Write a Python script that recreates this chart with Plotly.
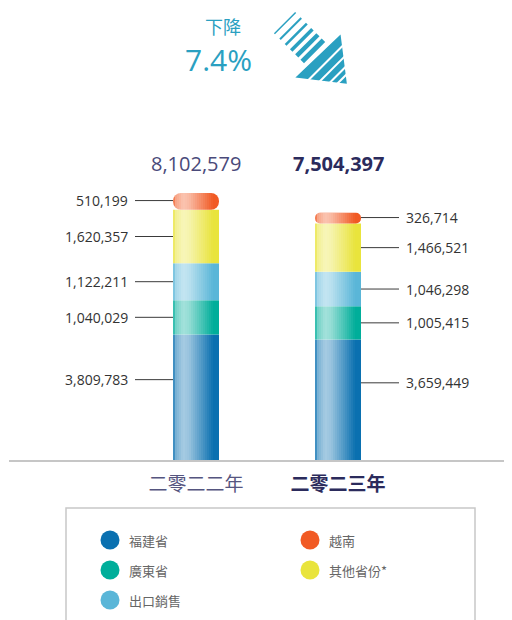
import numpy as np
import plotly.graph_objects as go

# ---------------- data ----------------
years = ["二零二二年", "二零二三年"]
segments = ["福建省", "廣東省", "出口銷售", "其他省份*", "越南"]   # bottom -> top
fujian = [3809783, 3659449]
guangdong = [1040029, 1005415]
export_sales = [1122211, 1046298]
other_prov = [1620357, 1466521]
vietnam = [510199, 326714]
seg_colors = ["#0a70b0", "#00ae9a", "#5ab6d8", "#e9e43c", "#f15a24"]

series = [fujian, guangdong, export_sales, other_prov, vietnam]
totals = [sum(v) for v in zip(*series)]
change = (totals[0] - totals[1]) / totals[0] * 100

# the page body has an 8px margin, so the figure is 8px smaller on each side
OFF = 8
W, H = 512 - OFF, 620 - OFF
TEAL = "#2aa0c1"
NAVY = "#2b2b5c"
CJK = "Noto Sans CJK TC"
NUM = "Open Sans, Noto Sans CJK TC"

# window pixel -> paper helpers
def px(x):
    return (x - OFF) / W

def py(y):
    return 1 - (y - OFF) / H

# plot scales
X_UNIT = 142.0                      # px between the two bars
BAR_W = 46 / X_UNIT
BASE_Y = 460                        # baseline in window px
Y_PER_PX = totals[0] / 267          # first bar is 267px tall
Y_MAX = (BASE_Y - OFF) * Y_PER_PX

fig = go.Figure()

# ---------------- stacked bars ----------------
base = np.zeros(2)
for k, (name, vals, col) in enumerate(zip(segments, series, seg_colors)):
    top = k == len(series) - 1
    fig.add_trace(go.Bar(
        x=[0, 1], y=vals, base=base.copy(), width=BAR_W, name=name,
        marker=dict(color=col, line=dict(width=0), cornerradius=8 if top else 0),
        hoverinfo="skip", showlegend=False,
    ))
    base += np.array(vals)

# glossy highlight: thin white strips with varying alpha
N = 23
for i in range(N):
    u = (i + 0.5) / N
    a = float(np.interp(u, [0, 0.06, 0.22, 0.35, 0.88, 1], [0.1, 0.45, 0.64, 0.58, 0.0, 0.0]))
    fig.add_trace(go.Bar(
        x=[0, 1], y=totals, base=[0, 0], width=BAR_W / N,
        offset=-BAR_W / 2 + i * BAR_W / N,
        marker=dict(color=f"rgba(255,255,255,{a:.3f})", line=dict(width=0)),
        hoverinfo="skip", showlegend=False,
    ))

# ---------------- value labels with leader lines ----------------
shapes = []
annotations = []
LINE_LEN = 38 / X_UNIT
GAP = 5 / X_UNIT
fracs = [0.64, 0.5, 0.5, 0.5, 0.55]
for b in range(2):
    cum = 0
    side = -1 if b == 0 else 1
    edge = b + side * BAR_W / 2
    for k, vals in enumerate(series):
        ylab = cum + vals[b] * fracs[k]
        cum += vals[b]
        shapes.append(dict(type="line", xref="x", yref="y",
                           x0=edge, x1=edge + side * LINE_LEN, y0=ylab, y1=ylab,
                           line=dict(color="#3a3a3a", width=1)))
        annotations.append(dict(
            xref="x", yref="y", x=edge + side * (LINE_LEN + GAP), y=ylab,
            text=f"{vals[b]:,}", showarrow=False,
            xanchor="right" if b == 0 else "left", yanchor="middle",
            font=dict(family=NUM, size=14, color="#333333")))

# totals above bars
annotations.append(dict(xref="x", yref="paper", x=0, y=py(163), text=f"{totals[0]:,}",
                        showarrow=False, xanchor="center", yanchor="middle",
                        font=dict(family=NUM, size=20, color="#4a4a7a")))
annotations.append(dict(xref="x", yref="paper", x=1, y=py(163), text=f"<b>{totals[1]:,}</b>",
                        showarrow=False, xanchor="center", yanchor="middle",
                        font=dict(family=NUM, size=20, color=NAVY)))

# headline
annotations.append(dict(xref="paper", yref="paper", x=px(223), y=py(25.5), text="下降",
                        showarrow=False, xanchor="center", yanchor="middle",
                        font=dict(family=CJK, size=18, color=TEAL)))
annotations.append(dict(xref="paper", yref="paper", x=px(218), y=py(59), text=f"{change:.1f}%",
                        showarrow=False, xanchor="center", yanchor="middle",
                        font=dict(family=NUM, size=30, color=TEAL)))

# ---------------- striped arrow ----------------
tri = [(297, 77), (340, 36), (346, 83)]
path = "M " + " L ".join(f"{px(x):.5f},{py(y):.5f}" for x, y in tri) + " Z"
shapes.append(dict(type="path", xref="paper", yref="paper", path=path,
                   fillcolor=TEAL, line=dict(color=TEAL, width=1.5)))
mx, my = 318.5, 56.5
n = np.array([0.7071, 0.7071])
t = np.array([0.7071, -0.7071])
for d in [9.5, 18.5, 26.5, 32.5]:
    c = np.array([mx, my]) + d * n
    p0, p1 = c - 30 * t, c + 30 * t
    shapes.append(dict(type="line", xref="paper", yref="paper",
                       x0=px(p0[0]), y0=py(p0[1]), x1=px(p1[0]), y1=py(p1[1]),
                       line=dict(color="white", width=2)))
for d, w in zip([-8, -15.8, -23.6, -31.5, -39.4, -47.3], [5, 4.5, 3.5, 2.6, 2, 1.5]):
    c = np.array([mx, my]) + d * n
    p0, p1 = c - 15 * t, c + 15 * t
    shapes.append(dict(type="line", xref="paper", yref="paper",
                       x0=px(p0[0]), y0=py(p0[1]), x1=px(p1[0]), y1=py(p1[1]),
                       line=dict(color=TEAL, width=w)))

# ---------------- legend box ----------------
shapes.append(dict(type="rect", xref="paper", yref="paper",
                   x0=px(66), x1=px(475), y0=py(640), y1=py(508),
                   line=dict(color="#c8c8c8", width=1.5)))
legend_order = [0, 1, 2, 4, 3]
for pos, k in enumerate(legend_order):
    col, row = divmod(pos, 3)
    cx, cy = 110 + 200 * col, 540 + 30 * row
    shapes.append(dict(type="circle", xref="paper", yref="paper",
                       x0=px(cx - 9.5), x1=px(cx + 9.5), y0=py(cy + 9.5), y1=py(cy - 9.5),
                       fillcolor=seg_colors[k], line=dict(width=0)))
    annotations.append(dict(xref="paper", yref="paper", x=px(cx + 17), y=py(cy),
                            text=segments[k], showarrow=False, xanchor="left", yanchor="middle",
                            font=dict(family=CJK, size=13, color="#666666")))

fig.update_layout(
    width=W, height=H, margin=dict(l=0, r=0, t=0, b=0),
    paper_bgcolor="white", plot_bgcolor="white",
    barmode="overlay", showlegend=False,
    shapes=shapes, annotations=annotations,
    xaxis=dict(domain=[px(9), 1], range=[-187 / X_UNIT, 1 + 174 / X_UNIT],
               tickvals=[0, 1],
               ticktext=[f"<span style='color:#55557f'>{years[0]}</span>",
                         f"<b><span style='color:{NAVY}'>{years[1]}</span></b>"],
               ticks="", showline=True, linecolor="#c6c6c6", linewidth=2,
               showgrid=False, zeroline=False, fixedrange=True,
               tickfont=dict(family=CJK, size=19), ticklabelstandoff=6),
    yaxis=dict(domain=[py(BASE_Y), 1], range=[0, Y_MAX], visible=False,
               showgrid=False, zeroline=False, fixedrange=True),
)

fig.write_html("out.html")
